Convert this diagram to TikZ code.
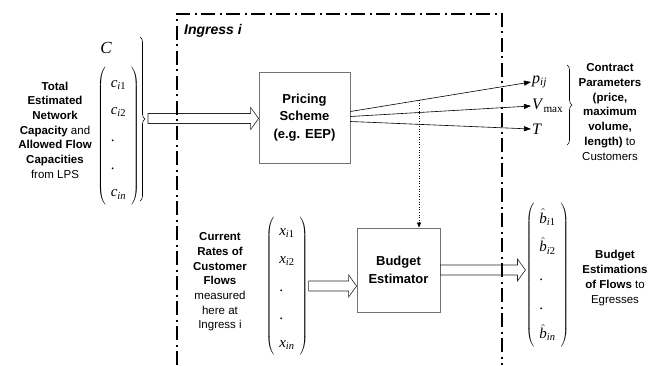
\documentclass[tikz,border=0pt]{standalone}
\usepackage{fontspec}
\setmainfont{Liberation Sans}
\newfontfamily\tms{Liberation Serif}
\usepackage{tikz}
\usetikzlibrary{arrows.meta, calc, decorations.pathreplacing}

% vector entries: italic letter with subscript
\newcommand{\ent}[2]{\mbox{\textit{#1}\textsubscript{#2}}}
\newcommand{\enthat}[1]{\mbox{$\hat{\mbox{\textit{b}}}$\textsubscript{#1}}}

\begin{document}
\begin{tikzpicture}[
    x=1pt, y=1pt,
    font=\fontsize{11.5}{14.7}\selectfont,
    blok/.style={draw=black!55, line width=0.8pt, inner sep=0pt, align=center,
                 font=\fontsize{13}{17.5}\selectfont\bfseries},
    teks/.style={align=center, inner sep=0pt},
    vektor/.style={inner sep=0pt, font=\tms\fontsize{15}{12}\selectfont},
    simbol/.style={anchor=west, inner sep=1pt, font=\tms\fontsize{16}{16}\selectfont},
    panah/.style={-{Triangle[length=7pt, width=5pt]}, line width=0.6pt},
    titik/.style={dotted, line width=0.6pt, -{Triangle[length=5pt, width=4pt]}},
    kurawal/.style={decorate, decoration={brace, amplitude=5pt}, line width=0.6pt},
    batas/.style={line width=1.8pt, dash pattern=on 14pt off 4.5pt on 2pt off 4.5pt},
    panahganda/.style={draw=black!85, line width=0.6pt, fill=white,
      to path={($(\tikztostart)+(0,5)$) -- ($(\tikztotarget)+(-8,5)$)
        -- ($(\tikztotarget)+(-8,11)$) -- (\tikztotarget)
        -- ($(\tikztotarget)+(-8,-11)$) -- ($(\tikztotarget)+(-8,-5)$)
        -- ($(\tikztostart)+(0,-5)$) -- cycle}}
  ]
    \useasboundingbox (0,0) rectangle (662,365);

    % capacities coming in from the left
    \node[teks] (kapasitas) at (55,235) {\textbf{Total}\\\textbf{Estimated}\\\textbf{Network}\\
      \textbf{Capacity} and\\\textbf{Allowed Flow}\\\textbf{Capacities}\\from LPS};
    \node[font=\tms\itshape\fontsize{17}{17}\selectfont] (cap) at (106,317) {C};
    \node[vektor] (cvek) at (118.5,228.5) {$\def\arraystretch{2.29}\left(\begin{array}{l}
      \ent{c}{\textit{i}1}\\ \ent{c}{\textit{i}2}\\ \mbox{.}\\ \mbox{.}\\ \ent{c}{\textit{in}}
      \end{array}\right)$};
    \draw[kurawal] (140,328) -- (140,164);
    \coordinate (ujungC) at (148,246.5);

    % the two blocks
    \node[blok, minimum width=91pt, minimum height=91pt] (pricing) at (304.5,247.5)
      {Pricing\\Scheme\\(e.g. EEP)};
    \node[blok, minimum width=83pt, minimum height=84pt] (budget) at (398.5,95)
      {Budget\\Estimator};

    % contract outputs
    \node[simbol] (pij) at (531,283) {\ent{p}{\textit{ij}}};
    \node[simbol] (vmax) at (531,259) {\ent{V}{max}};
    \node[simbol] (tlen) at (531,236) {\textit{T}};
    \draw[kurawal] (567,300) -- (567,220);
    \node[teks] (kontrak) at (610,253) {\textbf{Contract}\\\textbf{Parameters}\\\textbf{(price,}\\
      \textbf{maximum}\\\textbf{volume,}\\\textbf{length)} to\\Customers};

    % measured rates and budgets
    \node[teks] (laju) at (220,83) {\textbf{Current}\\\textbf{Rates of}\\\textbf{Customer}\\
      \textbf{Flows}\\measured\\here at\\Ingress i};
    \node[vektor] (xvek) at (287,79) {$\def\arraystretch{2.33}\left(\begin{array}{l}
      \ent{x}{\textit{i}1}\\ \ent{x}{\textit{i}2}\\ \mbox{.}\\ \mbox{.}\\ \ent{x}{\textit{in}}
      \end{array}\right)$};
    \node[vektor] (bvek) at (547.5,90) {$\def\arraystretch{2.4}\left(\begin{array}{l}
      \enthat{\textit{i}1}\\ \enthat{\textit{i}2}\\ \mbox{.}\\ \mbox{.}\\ \enthat{\textit{in}}
      \end{array}\right)$};
    \node[teks] (estimasi) at (615,87) {\textbf{Budget}\\\textbf{Estimations}\\
      \textbf{of Flows} to\\Egresses};

    \draw[panahganda] (ujungC) to (ujungC -| pricing.west);
    \draw[panah] ($(pricing.east)+(0,6)$) -- coordinate[pos=0.38] (tap) (pij.west);
    \draw[panah] ($(pricing.east)+(0,1)$) -- (vmax.west);
    \draw[panah] ($(pricing.east)+(0,-4)$) -- (tlen.west);
    \draw[titik] (tap) -- (tap |- budget.north);
    \draw[panahganda] (xvek.east) to (xvek.east -| budget.west);
    \draw[panahganda] (budget.east) to (budget.east -| bvek.west);

    % ingress boundary
    \draw[batas] (177,0) |- (502,351) -- (502,0);
    \node[anchor=base west, inner sep=0pt, font=\fontsize{14}{17}\selectfont\bfseries\itshape]
      (judul) at (184,330) {Ingress i};
  \end{tikzpicture}
\end{document}
